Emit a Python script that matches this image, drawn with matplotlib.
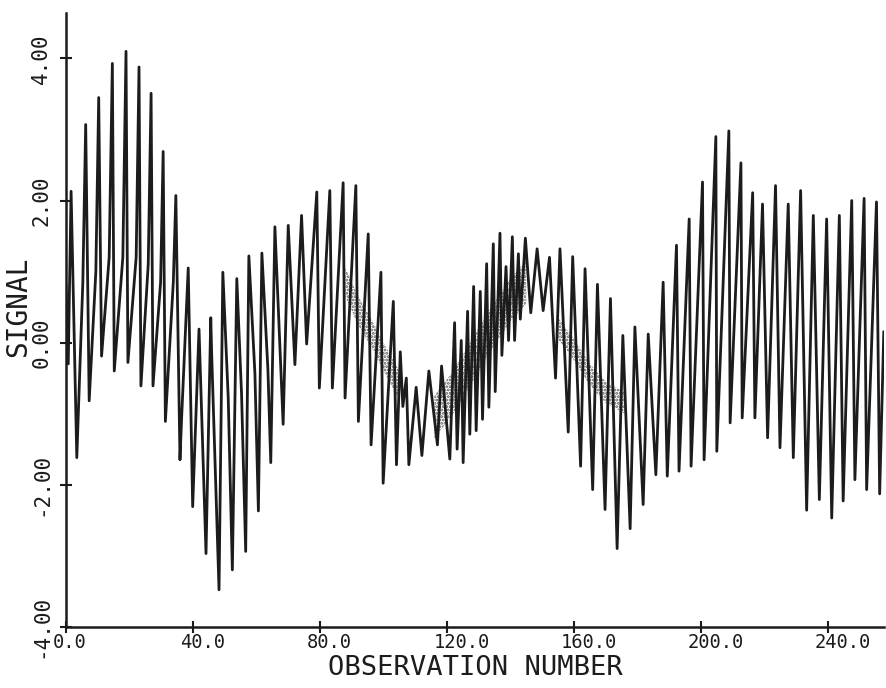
import matplotlib

matplotlib.use("Agg")
import matplotlib.pyplot as plt
import matplotlib.transforms as mtransforms

plt.rcParams["font.family"] = ["DejaVu Sans Mono", "DejaVu Sans"]
plt.rcParams["hatch.linewidth"] = 1.4

# Turning points of the recorded signal (observation number, value)
obs = [
    0.0, 0.7, 1.6, 3.4, 5.3, 6.2, 7.3, 9.4, 10.3, 11.2,
    13.6, 14.6, 15.2, 17.9, 18.9, 19.5, 22.1, 23.0, 23.6, 25.9,
    26.8, 27.4, 29.8, 30.6, 31.3, 33.8, 34.6, 35.9, 36.4, 38.5,
    39.9, 41.9, 44.1, 45.6, 45.9, 48.2, 49.4, 51.1, 52.4, 53.8,
    55.3, 56.6, 57.6, 59.5, 60.6, 61.7, 63.6, 64.5, 65.8, 68.4,
    70.0, 72.1, 74.2, 75.8, 79.0, 79.8, 83.1, 83.9, 87.3, 87.9,
    91.3, 92.1, 95.2, 96.1, 99.2, 99.9, 103.1, 104.1, 105.3, 106.1,
    107.2, 108.0, 110.3, 112.1, 114.3, 117.0, 118.3, 120.9, 122.4, 123.2,
    124.5, 125.1, 126.5, 127.2, 128.4, 129.2, 130.5, 131.2, 132.5, 133.2,
    134.6, 135.2, 136.7, 137.3, 138.6, 139.4, 140.6, 141.3, 142.5, 143.1,
    144.7, 146.4, 148.4, 150.3, 152.3, 154.2, 155.6, 158.2, 159.6, 162.1,
    163.5, 165.9, 167.4, 169.8, 171.5, 173.6, 175.4, 177.7, 179.2, 181.8,
    183.4, 185.8, 188.1, 189.4, 192.3, 193.1, 196.3, 196.9, 200.5, 201.0,
    204.7, 205.0, 208.8, 209.2, 212.6, 213.0, 216.3, 217.0, 219.4, 221.0,
    223.5, 224.9, 227.5, 229.1, 231.4, 233.3, 235.4, 237.3, 239.6, 241.2,
    243.6, 244.8, 247.5, 248.5, 251.4, 252.2, 255.3, 256.3, 257.6,
]
signal = [
    0.80, -0.30, 2.13, -1.62, 0.85, 3.07, -0.82, 1.00, 3.45, -0.19,
    1.20, 3.93, -0.40, 1.20, 4.10, -0.28, 1.20, 3.88, -0.61, 1.10,
    3.51, -0.61, 0.85, 2.69, -1.11, 0.85, 2.07, -1.65, -1.08, 1.05,
    -2.31, 0.19, -2.97, 0.35, -0.18, -3.48, 0.99, -0.78, -3.20, 0.90,
    -0.73, -2.94, 1.22, -0.43, -2.37, 1.26, -0.38, -1.69, 1.63, -1.15,
    1.65, -0.31, 1.79, -0.02, 2.12, -0.64, 2.14, -0.64, 2.25, -0.78,
    2.21, -1.11, 1.53, -1.44, 0.99, -1.98, 0.58, -1.72, -0.13, -0.90,
    -0.50, -1.72, -0.63, -1.59, -0.40, -1.44, -0.33, -1.64, 0.28, -1.50,
    0.03, -1.69, 0.44, -1.29, 0.79, -1.24, 0.72, -1.08, 1.11, -0.91,
    1.39, -0.69, 1.54, -0.18, 1.07, 0.03, 1.49, 0.03, 1.25, 0.33,
    1.47, 0.42, 1.32, 0.45, 1.20, -0.50, 1.32, -1.26, 1.21, -1.74,
    1.04, -2.07, 0.82, -2.35, 0.62, -2.90, 0.10, -2.62, 0.22, -2.28,
    0.12, -1.86, 0.85, -1.88, 1.37, -1.81, 1.74, -1.74, 2.26, -1.65,
    2.90, -1.53, 2.98, -1.13, 2.53, -1.06, 2.11, -1.06, 1.95, -1.34,
    2.21, -1.48, 1.95, -1.62, 2.14, -2.36, 1.79, -2.21, 1.74, -2.47,
    1.79, -2.23, 2.00, -1.93, 2.03, -2.07, 1.98, -2.13, 0.15,
]

# Stretches where the pen trace turns into fine grain
grain_obs = [
    [88.0, 92.0, 96.0, 100.0, 105.0],
    [116.0, 122.0, 128.0, 134.0, 140.0, 145.0],
    [155.0, 160.0, 165.0, 170.0, 176.0],
]
grain_lo = [
    [0.65, 0.25, -0.05, -0.40, -0.80],
    [-1.35, -1.00, -0.55, -0.10, 0.30, 0.55],
    [0.05, -0.25, -0.60, -0.85, -1.00],
]
grain_hi = [
    [1.05, 0.65, 0.35, 0.00, -0.40],
    [-0.75, -0.40, 0.05, 0.50, 0.90, 1.15],
    [0.35, 0.05, -0.30, -0.55, -0.70],
]

x_ticks = [0, 40, 80, 120, 160, 200, 240]
x_labels = ["0.0", "40.0", "80.0", "120.0", "160.0", "200.0", "240.0"]
y_ticks = [-4, -2, 0, 2, 4]
y_labels = ["-4.00", "-2.00", "0.00", "2.00", "4.00"]

ink = "#1c1c1c"

fig = plt.figure(figsize=(8.86, 6.88), dpi=100)
ax = fig.add_axes([0.0745, 0.0891, 0.923, 0.892])

for gx, lo, hi in zip(grain_obs, grain_lo, grain_hi):
    ax.fill_between(gx, lo, hi, facecolor="none", edgecolor="#5a5a5a",
                    hatch=".....", linewidth=0)

ax.plot(obs, signal, color=ink, lw=2.0, solid_joinstyle="round")

ax.set_xlim(0, 257.6)
ax.set_ylim(-4, 4.64)
for side in ("top", "right"):
    ax.spines[side].set_visible(False)
for side in ("left", "bottom"):
    ax.spines[side].set_linewidth(1.8)
    ax.spines[side].set_color(ink)

ax.set_xticks(x_ticks)
ax.set_xticklabels(x_labels)
ax.set_yticks(y_ticks)
ax.set_yticklabels(y_labels)
ax.tick_params(axis="both", direction="inout", length=9, width=1.5,
               color=ink, labelcolor=ink)
ax.tick_params(axis="x", labelsize=13.5, pad=0)
ax.tick_params(axis="y", labelsize=15, pad=6, labelrotation=90)

# plotter labels start just left of their tick
shift = mtransforms.ScaledTranslation(-13 / 100, 0, fig.dpi_scale_trans)
for lbl in ax.get_xticklabels():
    lbl.set_horizontalalignment("left")
    lbl.set_transform(lbl.get_transform() + shift)
for lbl in ax.get_yticklabels():
    lbl.set_verticalalignment("center")

ax.set_xlabel("OBSERVATION NUMBER", fontsize=19.5, color=ink, va="center")
ax.xaxis.set_label_coords(0.5, -0.067)
ax.set_ylabel("SIGNAL", fontsize=20, color=ink, va="center")
ax.yaxis.set_label_coords(-0.059, 0.521)

fig.savefig("out.png", dpi=100)
